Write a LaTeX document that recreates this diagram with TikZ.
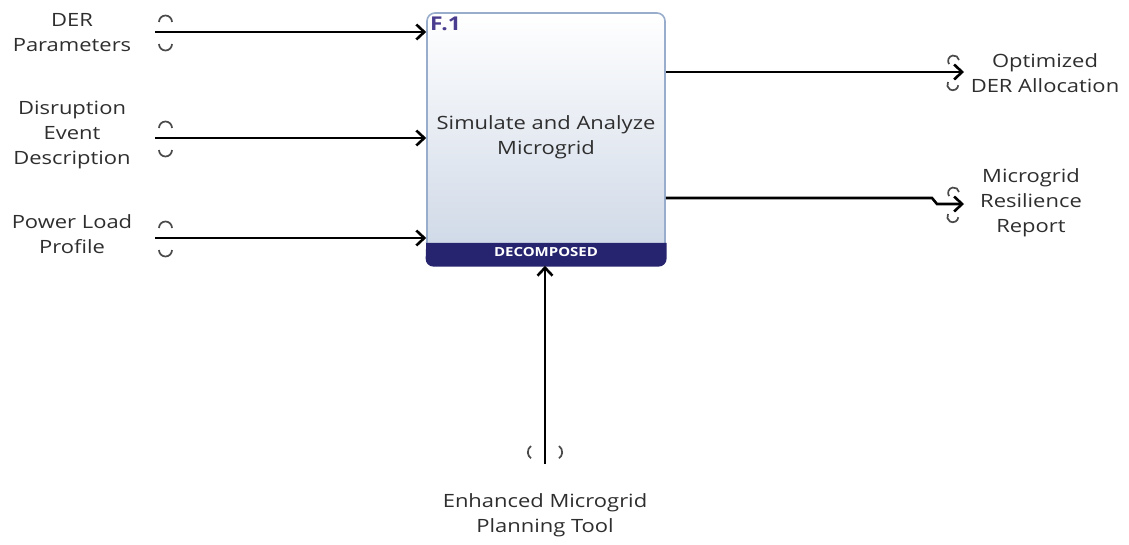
\documentclass[tikz,border=0pt]{standalone}
\usepackage{fontspec}
\setmainfont[FakeStretch=1.2]{Open Sans}
\usetikzlibrary{arrows.meta}
\definecolor{txt}{HTML}{2E2E2E}
\definecolor{boxline}{HTML}{98ACCB}
\definecolor{gradlow}{HTML}{C3CFE1}
\definecolor{navy}{HTML}{26246F}
\definecolor{fid}{HTML}{4A3C8E}
\definecolor{tun}{HTML}{4A4A4A}
\pgfdeclareverticalshading{boxshade}{100bp}{color(0bp)=(gradlow); color(25bp)=(gradlow!85!white); color(75bp)=(white); color(100bp)=(white)}
\tikzset{
  lbl/.style={text=txt, align=center, font=\fontsize{18.3}{25}\selectfont, inner sep=0pt},
  flow/.style={line width=2.6pt, -{Straight Barb[length=8pt,width=15pt,line width=2.6pt]}},
  tunnel/.style={draw=tun, line width=1.7pt},
  funcbox/.style={draw=boxline, line width=1.6pt, rounded corners=8pt,
    minimum width=238pt, minimum height=252pt, inner sep=0pt, shading=boxshade},
}
\begin{document}
\begin{tikzpicture}[x=1pt,y=-1pt]
\useasboundingbox (0,0) rectangle (1129,544);

% function block
\node[funcbox] (f1) at (546,139) {};
\fill[navy] ([yshift=23pt]f1.south west) [rounded corners=8pt] -- ([xshift=-0.8pt,yshift=-0.8pt]f1.south west) -- ([xshift=0.8pt,yshift=-0.8pt]f1.south east) [sharp corners] -- ([xshift=0.8pt,yshift=23pt]f1.south east) -- ([xshift=-0.8pt,yshift=23pt]f1.south west) -- cycle;
\node[font=\fontsize{12.5}{14}\selectfont\bfseries, text=white, inner sep=0pt] (dec) at (546,252) {DECOMPOSED};
\node[anchor=north west, font=\fontsize{19}{22}\selectfont\bfseries, text=fid, inner sep=0pt] (fnum) at (430,17) {F.1};
\node[lbl] (title) at (546,137) {Simulate and Analyze\\Microgrid};

% input labels and their free ends
\node[lbl] (in1) at (72,33) {DER\\Parameters};
\node[lbl] (in2) at (72,135) {Disruption\\Event\\Description};
\node[lbl] (in3) at (72,234) {Power Load\\Profile};
\coordinate (s1) at (155,32);
\coordinate (s2) at (155,138);
\coordinate (s3) at (155,238);

\draw[flow] (s1) -- (s1 -| f1.west);
\draw[flow] (s2) -- (s2 -| f1.west);
\draw[flow] (s3) -- (s3 -| f1.west);

% input tunnel marks
\foreach \y in {32,138,238}{
  \draw[tunnel] (159,\y-10) arc[start angle=180,end angle=0,radius=6.5pt];
  \draw[tunnel] (159,\y+12) arc[start angle=180,end angle=360,radius=6.5pt];
}

% outputs
\node[lbl] (out1) at (1045,73) {Optimized\\DER Allocation};
\node[lbl] (out2) at (1031,203) {Microgrid\\Resilience\\Report};
\coordinate (e1) at (964,72);
\coordinate (e2) at (964,204);
\draw[flow] (f1.east |- e1) -- (e1);
\draw[flow] (f1.east |- 0,198) -- (932,198) -- (937,204) -- (e2);

% output tunnel marks
\foreach \y in {72,204}{
  \draw[tunnel] (959,\y-12) arc[start angle=10,end angle=215,radius=5.5pt];
  \draw[tunnel] (948,\y+10) arc[start angle=150,end angle=355,radius=5.5pt];
}

% mechanism
\node[lbl] (mech) at (545,515) {Enhanced Microgrid\\Planning Tool};
\coordinate (m0) at (545,464);
\draw[flow] (m0) -- (f1.south -| m0);
\draw[tunnel] (531,446) arc[start angle=125,end angle=235,radius=7.5pt];
\draw[tunnel] (559,446) arc[start angle=55,end angle=-55,radius=7.5pt];
\end{tikzpicture}
\end{document}
